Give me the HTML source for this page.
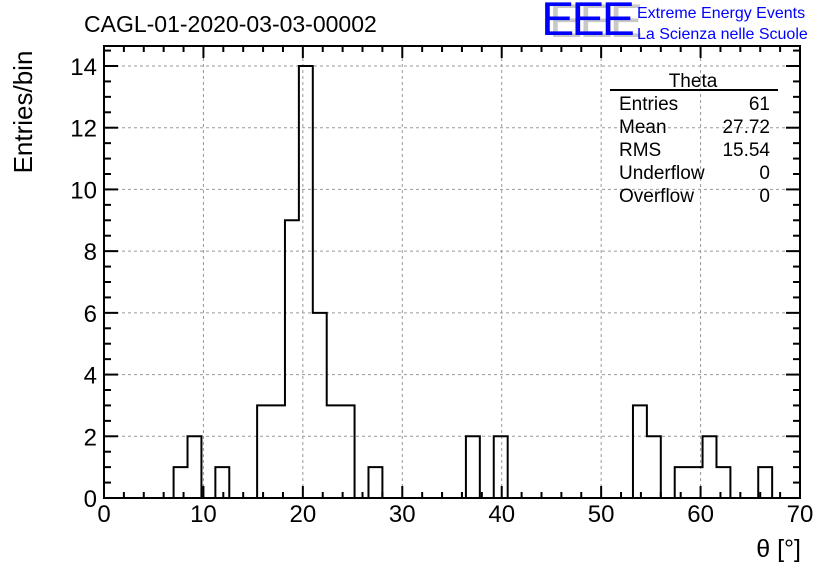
<!DOCTYPE html>
<html><head><meta charset="utf-8"><style>
body{margin:0;background:#fff;}
svg{display:block;font-family:"Liberation Sans",sans-serif;}
</style></head><body>
<svg id="c" width="836" height="572">
<text x="84" y="32" font-size="23">CAGL-01-2020-03-03-00002</text>
<g>
<text x="549" y="39" font-size="50" fill="#c8c8c8" letter-spacing="-3" transform="scale(1,0.95)">EEE</text>
<text x="541" y="37" font-size="50" fill="#0000ff" letter-spacing="-3" transform="scale(1,0.95)">EEE</text>
</g>
<text x="637" y="18" font-size="16" fill="#0000ff">Extreme Energy Events</text>
<text x="637" y="39" font-size="16" fill="#0000ff">La Scienza nelle Scuole</text>
<g id="grid"></g><g id="hist"></g><g id="axes"></g>
<text x="32" y="112" font-size="26" transform="rotate(-90 32 112)" text-anchor="middle">Entries/bin</text>
<text x="801" y="557" font-size="25" text-anchor="end">θ [°]</text>
<g font-size="19">
<text x="693" y="87" text-anchor="middle">Theta</text>
<line x1="610" y1="90" x2="778" y2="90" stroke="#000" stroke-width="2"/>
<text x="619" y="110">Entries</text><text x="770" y="110" text-anchor="end">61</text>
<text x="619" y="133">Mean</text><text x="770" y="133" text-anchor="end">27.72</text>
<text x="619" y="156">RMS</text><text x="770" y="156" text-anchor="end">15.54</text>
<text x="619" y="179">Underflow</text><text x="770" y="179" text-anchor="end">0</text>
<text x="619" y="202">Overflow</text><text x="770" y="202" text-anchor="end">0</text>
</g>
</svg>
<script>
const binWidth = 1.4;
const binCounts = [0,0,0,0,0,1,2,0,1,0,0,3,3,9,14,6,3,3,0,1,0,0,0,0,0,0,2,0,2,0,0,0,0,0,0,0,0,0,3,2,0,1,1,2,1,0,0,1,0,0];
const xTicks = [0,10,20,30,40,50,60,70];
const yTicks = [0,2,4,6,8,10,12,14];
const X0=104,X1=800,Y0=498,YT=46;
const sx=v=>X0+(v/70)*(X1-X0);
const sy=v=>Y0-v*(Y0-66)/14;
const NS="http://www.w3.org/2000/svg";
function mk(t,a,p){const e=document.createElementNS(NS,t);for(const k in a)e.setAttribute(k,a[k]);p.appendChild(e);return e;}
const grid=document.getElementById('grid'),hist=document.getElementById('hist'),axes=document.getElementById('axes');
xTicks.forEach(v=>{if(v>0&&v<70){const l=mk('line',{x1:sx(v),x2:sx(v),y1:YT,y2:Y0,stroke:'#999','stroke-dasharray':'3,3'},grid);

}});
yTicks.forEach(v=>{if(v>0){const l=mk('line',{x1:X0,x2:X1,y1:sy(v),y2:sy(v),stroke:'#999','stroke-dasharray':'3,3'},grid);

}});
let d='M'+sx(0)+','+sy(0);
binCounts.forEach((c,i)=>{d+=' L'+sx(i*binWidth)+','+sy(c)+' L'+sx((i+1)*binWidth)+','+sy(c);});
d+=' L'+sx(70)+','+sy(0);
const p=mk('path',{d:d,fill:'none',stroke:'#000','stroke-width':2},hist);


const fr=mk('rect',{x:X0,y:YT,width:X1-X0,height:Y0-YT,fill:'none',stroke:'#000','stroke-width':2},axes);


for(let v=0;v<=70;v+=2){const L=v%10===0?12:6;
mk('line',{x1:sx(v),x2:sx(v),y1:Y0,y2:Y0-L,stroke:'#000','stroke-width':2},axes);
mk('line',{x1:sx(v),x2:sx(v),y1:YT,y2:YT+L,stroke:'#000','stroke-width':2},axes);}
for(let v=0;v<=14.6;v+=0.5){const L=Math.abs(v%2)<1e-9?14:7;
mk('line',{x1:X0,x2:X0+L,y1:sy(v),y2:sy(v),stroke:'#000','stroke-width':2},axes);
mk('line',{x1:X1,x2:X1-L,y1:sy(v),y2:sy(v),stroke:'#000','stroke-width':2},axes);}
xTicks.forEach(v=>{const t=mk('text',{x:sx(v),y:522,'font-size':24,'text-anchor':'middle'},axes);t.textContent=v;

});
yTicks.forEach(v=>{const t=mk('text',{x:97,y:sy(v)+9,'font-size':24,'text-anchor':'end'},axes);t.textContent=v;

});
</script>
</body></html>
